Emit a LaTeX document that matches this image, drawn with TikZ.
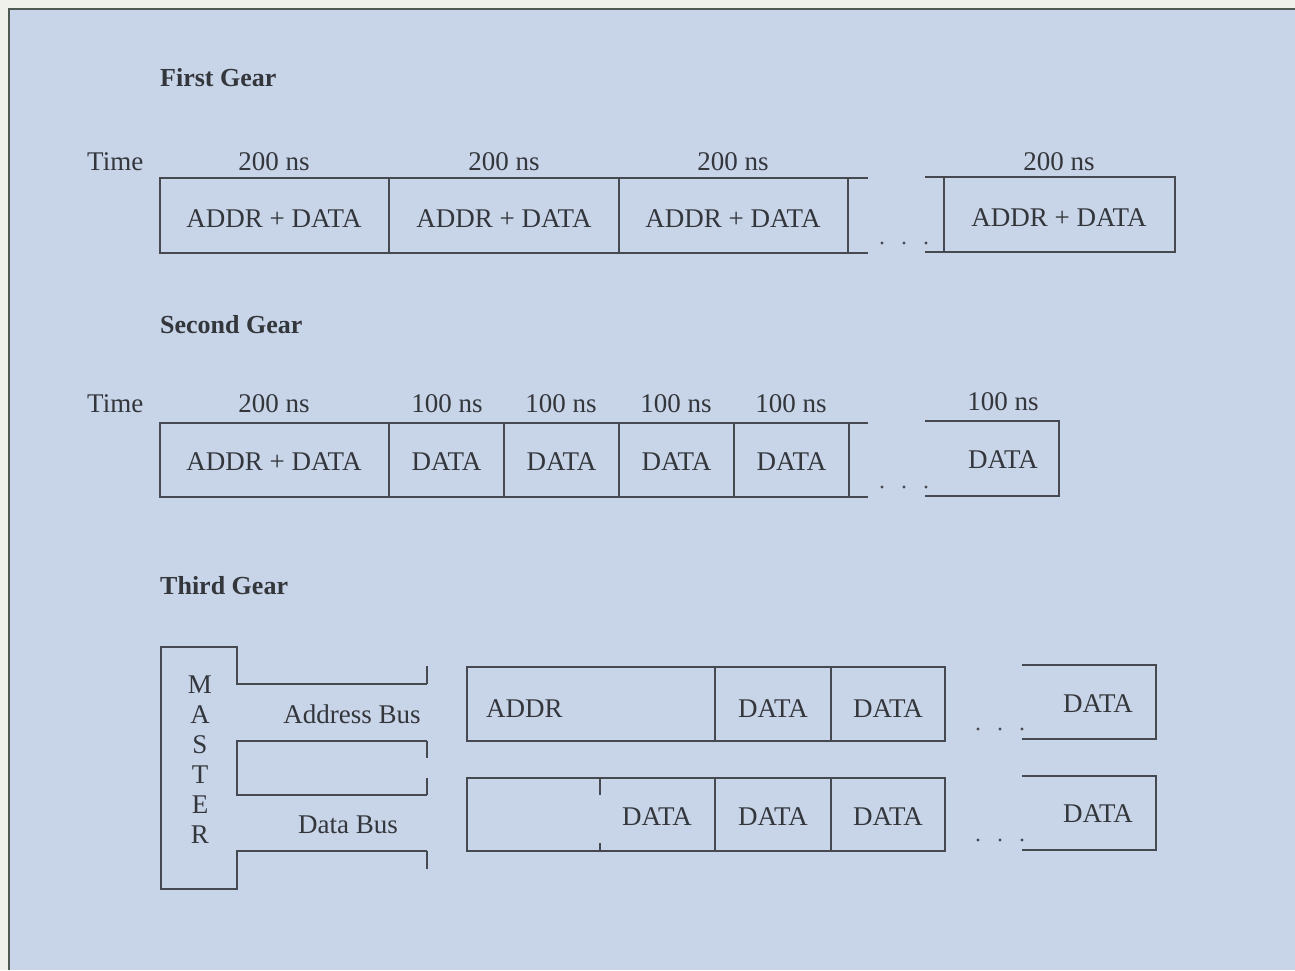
\documentclass[tikz,border=0pt]{standalone}
\usepackage{fontspec}
\setmainfont{Liberation Serif}
\definecolor{pagecol}{HTML}{F1F1EC}
\definecolor{bgcol}{HTML}{C8D4E8}
\definecolor{bordercol}{HTML}{4F5A52}
\definecolor{lncol}{HTML}{464950}
\definecolor{txtcol}{HTML}{33363B}
\begin{document}
\begin{tikzpicture}[x=1pt,y=-1pt,
  ln/.style={draw=lncol, line width=1.3pt},
  lbl/.style={anchor=base, inner sep=0pt, text=txtcol, font=\fontsize{27}{30}\selectfont},
  lblw/.style={lbl, anchor=base west},
  ttl/.style={lbl, anchor=base west, font=\fontsize{26}{30}\selectfont\bfseries},
  dotc/.style={fill=lncol}]
\useasboundingbox (0,0) rectangle (1295,970);
\fill[pagecol] (0,0) rectangle (1295,970);
\fill[bgcol] (9,9) rectangle (1295,970);
\draw[bordercol, line width=2pt] (9,970) -- (9,9) -- (1295,9);

% ---------- First Gear ----------
\node[ttl] (t1) at (160,86) {First Gear};
\node[lblw] (time1) at (87,170) {Time};
\node[lbl] (a1) at (274,170) {200 ns};
\node[lbl] (a2) at (504,170) {200 ns};
\node[lbl] (a3) at (733,170) {200 ns};
\node[lbl] (a4) at (1059,170) {200 ns};
\draw[ln] (868,178) -- (160,178) -- (160,253) -- (868,253);
\draw[ln] (389,178) -- (389,253);
\draw[ln] (619,178) -- (619,253);
\draw[ln] (848,178) -- (848,253);
\draw[ln] (925,177) -- (1175,177) -- (1175,252) -- (925,252);
\draw[ln] (944,177) -- (944,252);
\node[lbl] (b1) at (274,227) {ADDR + DATA};
\node[lbl] (b2) at (504,227) {ADDR + DATA};
\node[lbl] (b3) at (733,227) {ADDR + DATA};
\node[lbl] (b4) at (1059,226) {ADDR + DATA};
\foreach \x in {882,904,926} \fill[dotc] (\x,243) circle (1.6);

% ---------- Second Gear ----------
\node[ttl] (t2) at (160,333) {Second Gear};
\node[lblw] (time2) at (87,412) {Time};
\node[lbl] (c1) at (274,412) {200 ns};
\node[lbl] (c2) at (447,412) {100 ns};
\node[lbl] (c3) at (561,412) {100 ns};
\node[lbl] (c4) at (676,412) {100 ns};
\node[lbl] (c5) at (791,412) {100 ns};
\node[lbl] (c6) at (1003,410) {100 ns};
\draw[ln] (868,423) -- (160,423) -- (160,497) -- (868,497);
\foreach \x in {389,504,619,734,849} \draw[ln] (\x,423) -- (\x,497);
\draw[ln] (925,421) -- (1059,421) -- (1059,496) -- (925,496);
\node[lbl] (d1) at (274,470) {ADDR + DATA};
\node[lbl] (d2) at (446.5,470) {DATA};
\node[lbl] (d3) at (561.5,470) {DATA};
\node[lbl] (d4) at (676.5,470) {DATA};
\node[lbl] (d5) at (791.5,470) {DATA};
\node[lbl] (d6) at (1003,468) {DATA};
\foreach \x in {882,904,926} \fill[dotc] (\x,487) circle (1.6);

% ---------- Third Gear ----------
\node[ttl] (t3) at (160,594) {Third Gear};
% master outline
\draw[ln] (427,684) -- (237,684) -- (237,647) -- (161,647) -- (161,889) -- (237,889) -- (237,851) -- (427,851);
\draw[ln] (427,741) -- (237,741) -- (237,795) -- (427,795);
\draw[ln] (427,666) -- (427,684);
\draw[ln] (427,741) -- (427,758);
\draw[ln] (427,778) -- (427,795);
\draw[ln] (427,851) -- (427,869);
\foreach \l [count=\i from 0] in {M,A,S,T,E,R}
  \node[lbl] (m\i) at (200,693+30*\i) {\l};
\node[lbl] (abus) at (352,723) {Address Bus};
\node[lbl] (dbus) at (348,833) {Data Bus};
% address row
\draw[ln] (467,667) rectangle (945,741);
\draw[ln] (715,667) -- (715,741);
\draw[ln] (831,667) -- (831,741);
\draw[ln] (1022,665) -- (1156,665) -- (1156,739) -- (1022,739);
\node[lblw] (e1) at (486,717) {ADDR};
\node[lbl] (e2) at (773,717) {DATA};
\node[lbl] (e3) at (888,717) {DATA};
\node[lbl] (e4) at (1098,712) {DATA};
\foreach \x in {978,1000,1022} \fill[dotc] (\x,729) circle (1.6);
% data row
\draw[ln] (467,778) rectangle (945,851);
\draw[ln] (600,778) -- (600,795);
\draw[ln] (600,843) -- (600,851);
\draw[ln] (715,778) -- (715,851);
\draw[ln] (831,778) -- (831,851);
\draw[ln] (1022,776) -- (1156,776) -- (1156,850) -- (1022,850);
\node[lbl] (f1) at (657,825) {DATA};
\node[lbl] (f2) at (773,825) {DATA};
\node[lbl] (f3) at (888,825) {DATA};
\node[lbl] (f4) at (1098,822) {DATA};
\foreach \x in {978,1000,1022} \fill[dotc] (\x,840) circle (1.6);
\end{tikzpicture}
\end{document}
